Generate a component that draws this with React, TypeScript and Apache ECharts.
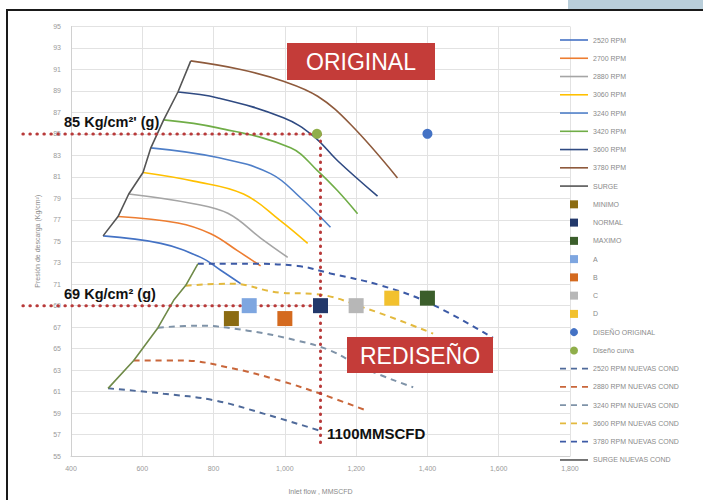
import React, { useEffect, useRef } from "react";
import * as echarts from "echarts";

// ---------- data ----------
const xTicksMin = 400;
const xTicksMax = 1800;
const yMin = 55;
const yMax = 95;

const rpmNames = ["2520 RPM", "2700 RPM", "2880 RPM", "3060 RPM", "3240 RPM", "3420 RPM", "3600 RPM", "3780 RPM"];
const rpmColors = ["#4472C4", "#ED7D31", "#A5A5A5", "#FFC000", "#4F7FC8", "#70AD47", "#2F4A82", "#8E5A3C"];

const rpm2520 = [[490, 75.5], [652, 74.8], [764, 73.5], [820, 72.3], [876, 71.05]];
const rpm2700 = [[532, 77.3], [700, 76.7], [792, 75.7], [868, 74.1], [932, 72.7]];
const rpm2880 = [[562, 79.4], [744, 78.5], [840, 77.6], [932, 75.3], [1008, 73.5]];
const rpm3060 = [[602, 81.4], [744, 80.6], [884, 79.4], [988, 76.9], [1064, 74.8]];
const rpm3240 = [[624, 83.7], [812, 82.8], [960, 81.3], [1044, 79.05], [1128, 76.3]];
const rpm3420 = [[660, 86.3], [812, 85.56], [1016, 83.7], [1092, 81.56], [1148, 79.7], [1204, 77.56]];
const rpm3600 = [[700, 88.9], [812, 88.35], [996, 86.5], [1080, 84.8], [1148, 82.5], [1260, 79.2]];
const rpm3780 = [[736, 91.8], [876, 91.0], [996, 89.9], [1092, 88.5], [1184, 85.9], [1316, 80.9]];
const rpmCurves = [rpm2520, rpm2700, rpm2880, rpm3060, rpm3240, rpm3420, rpm3600, rpm3780];

const surge = [[490, 75.5], [532, 77.3], [562, 79.4], [602, 81.4], [624, 83.7], [660, 86.3], [700, 88.9], [736, 91.8]];

const pointNames = ["MINIMO", "NORMAL", "MAXIMO", "A", "B", "C", "D", "DISEÑO ORIGINAL", "Diseño curva"];
const pointColors = ["#8B6B12", "#22386A", "#3B5E2B", "#7EA6E0", "#D46A1F", "#B7B7B7", "#F2C12E", "#4472C4", "#8FAE4A"];
const pointShapes = ["rect", "rect", "rect", "rect", "rect", "rect", "rect", "circle", "circle"];
const pointValues = [[850, 67.8], [1100, 69], [1400, 69.7], [900, 69], [1000, 67.8], [1200, 69], [1300, 69.7], [1400, 85], [1090, 85]];

const newNames = ["2520 RPM NUEVAS COND", "2880 RPM NUEVAS COND", "3240 RPM NUEVAS COND", "3600 RPM NUEVAS COND", "3780 RPM NUEVAS COND"];
const newColors = ["#4F6A9A", "#C9663A", "#7F93A8", "#E3B93E", "#3C5AA6"];
const new2520 = [[504, 61.3], [660, 60.8], [800, 60.2], [940, 58.95], [1094, 57.4]];
const new2880 = [[576, 63.9], [708, 63.9], [848, 63.2], [988, 62.0], [1100, 60.8], [1232, 59.2]];
const new3240 = [[644, 66.95], [756, 67.14], [896, 66.67], [1036, 65.74], [1128, 64.81], [1220, 63.2], [1360, 61.4]];
const new3600 = [[722, 70.86], [848, 71.05], [988, 70.2], [1080, 70.1], [1232, 68.7], [1416, 66.4]];
const new3780 = [[756, 72.9], [896, 72.9], [1036, 72.7], [1128, 72.0], [1268, 70.9], [1408, 69.2], [1584, 66.0]];
const newCurves = [new2520, new2880, new3240, new3600, new3780];

const surgeNew = [[504, 61.3], [576, 63.9], [644, 66.95], [688, 69.5], [722, 70.9], [756, 72.9]];

const guide85 = [[265, 85], [1100, 85]];
const guide69 = [[265, 69], [1100, 69]];
const guide1100 = [[1100, 85], [1100, 56]];

const ICON_SOLID = "path://M0,0h28v1.6h-28z";
const ICON_DASH = "path://M0,0h6v1.8h-6zM11,0h6v1.8h-6zM22,0h6v1.8h-6z";
const ICON_SQUARE = "path://M0,0h8v8h-8z";

export default function App() {
  const ref = useRef<HTMLDivElement>(null);

  useEffect(() => {
    if (!ref.current) return;
    const chart = echarts.init(ref.current, null, { renderer: "svg" });
    const font = "'Liberation Sans', Arial, sans-serif";

    const series: any[] = [];
    rpmCurves.forEach((d, i) => {
      series.push({
        name: rpmNames[i],
        type: "line",
        data: d,
        smooth: 0.4,
        symbol: "none",
        lineStyle: { color: rpmColors[i], width: 1.6 },
        itemStyle: { color: rpmColors[i] },
        z: 2,
      });
    });
    series.push({
      name: "SURGE",
      type: "line",
      data: surge,
      symbol: "none",
      lineStyle: { color: "#555555", width: 1.6 },
      itemStyle: { color: "#555555" },
      z: 2,
    });
    pointValues.forEach((p, i) => {
      series.push({
        name: pointNames[i],
        type: "scatter",
        data: [p],
        symbol: pointShapes[i],
        symbolSize: pointShapes[i] === "rect" ? 15 : 10,
        itemStyle: { color: pointColors[i], opacity: 1 },
        z: 5,
      });
    });
    newCurves.forEach((d, i) => {
      series.push({
        name: newNames[i],
        type: "line",
        data: d,
        smooth: 0.4,
        symbol: "none",
        lineStyle: { color: newColors[i], width: 2, type: [6, 5] },
        itemStyle: { color: newColors[i] },
        z: 2,
      });
    });
    series.push({
      name: "SURGE NUEVAS COND",
      type: "line",
      data: surgeNew,
      symbol: "none",
      lineStyle: { color: "#6F8A48", width: 1.6 },
      itemStyle: { color: "#555555" },
      z: 2,
    });

    const legendData: any[] = [];
    rpmNames.forEach((n) => legendData.push({ name: n, icon: ICON_SOLID }));
    legendData.push({ name: "SURGE", icon: ICON_SOLID });
    pointNames.forEach((n, i) => legendData.push({ name: n, icon: pointShapes[i] === "rect" ? ICON_SQUARE : "circle" }));
    newNames.forEach((n) => legendData.push({ name: n, icon: ICON_DASH }));
    legendData.push({ name: "SURGE NUEVAS COND", icon: ICON_SOLID });

    const annotations: any[] = [
      { type: "rect", shape: { x: 287, y: 43, width: 148, height: 37 }, style: { fill: "#C43C39" }, z: 10 },
      {
        type: "text",
        x: 361,
        y: 62,
        z: 11,
        style: { text: "ORIGINAL", fill: "#ffffff", fontSize: 23, fontFamily: font, align: "center", verticalAlign: "middle" },
      },
      { type: "rect", shape: { x: 347, y: 337, width: 146, height: 36 }, style: { fill: "#C43C39" }, z: 10 },
      {
        type: "text",
        x: 420,
        y: 356,
        z: 11,
        style: { text: "REDISEÑO", fill: "#ffffff", fontSize: 23, fontFamily: font, align: "center", verticalAlign: "middle" },
      },
      {
        type: "text",
        x: 64,
        y: 122,
        z: 11,
        style: { text: "85 Kg/cm²' (g)", fill: "#111111", fontSize: 14.5, fontWeight: "bold", fontFamily: font, align: "left", verticalAlign: "middle" },
      },
      {
        type: "text",
        x: 64,
        y: 294,
        z: 11,
        style: { text: "69 Kg/cm² (g)", fill: "#111111", fontSize: 14.5, fontWeight: "bold", fontFamily: font, align: "left", verticalAlign: "middle" },
      },
      {
        type: "text",
        x: 327,
        y: 433,
        z: 11,
        style: { text: "1100MMSCFD", fill: "#111111", fontSize: 15, fontWeight: "bold", fontFamily: font, align: "left", verticalAlign: "middle" },
      },
    ];

    chart.setOption({
      animation: false,
      backgroundColor: "transparent",
      grid: { left: 71, right: 133, top: 26.5, bottom: 43.5 },
      xAxis: {
        type: "value",
        min: xTicksMin,
        max: xTicksMax,
        interval: 200,
        name: "Inlet flow , MMSCFD",
        nameLocation: "middle",
        nameGap: 32,
        nameTextStyle: { color: "#8a8a8a", fontSize: 7, fontFamily: font },
        axisLine: { show: true, lineStyle: { color: "#d0d0d0" } },
        axisTick: { show: false },
        axisLabel: {
          color: "#9a9a9a",
          fontSize: 7,
          fontFamily: font,
          margin: 9,
          formatter: (v: number) => v.toLocaleString("en-US"),
        },
        splitLine: { show: true, lineStyle: { color: "#e2e2e2" } },
      },
      yAxis: {
        type: "value",
        min: yMin,
        max: yMax,
        interval: 2,
        name: "Presión de descarga (Kg/cm²)",
        nameLocation: "middle",
        nameGap: 30,
        nameTextStyle: { color: "#8a8a8a", fontSize: 7, fontFamily: font },
        axisLine: { show: true, lineStyle: { color: "#d0d0d0" } },
        axisTick: { show: false },
        axisLabel: { color: "#9a9a9a", fontSize: 7, fontFamily: font, margin: 10 },
        splitLine: { show: true, lineStyle: { color: "#e2e2e2" } },
      },
      legend: {
        orient: "vertical",
        left: 555,
        top: 30,
        itemWidth: 28,
        itemHeight: 8,
        itemGap: 8.26,
        data: legendData,
        textStyle: { color: "#8a8a8a", fontSize: 7, lineHeight: 10, fontFamily: font },
        selectedMode: false,
      },
      series,
      graphic: annotations,
    });

    // dotted guide lines, positioned through the chart's own scales
    const px = (pt: number[]) => chart.convertToPixel({ gridIndex: 0 }, pt) as number[];
    const guides = [guide85, guide69, guide1100].map((g) => {
      const a = px(g[0]);
      const b = px(g[1]);
      return {
        type: "line",
        z: 4,
        silent: true,
        shape: { x1: a[0], y1: a[1], x2: b[0], y2: b[1] },
        style: { stroke: "#B83A3A", lineWidth: 3, lineDash: [0.5, 6.5], lineCap: "round" },
      };
    });
    chart.setOption({ graphic: [...annotations, ...guides] });

    return () => chart.dispose();
  }, []);

  return (
    <div style={{ position: "fixed", left: 0, top: 0, width: 703, height: 500, background: "#ffffff", overflow: "hidden" }}>
      <div style={{ position: "absolute", left: 568, top: 0, width: 135, height: 10, background: "#B9CEDA" }} />
      <div
        style={{
          position: "absolute",
          left: 6,
          top: 9,
          width: 697,
          height: 491,
          borderLeft: "2px solid #1a1a1a",
          borderTop: "2px solid #1a1a1a",
        }}
      />
      <div ref={ref} style={{ position: "absolute", left: 0, top: 0, width: 703, height: 500 }} />
    </div>
  );
}
